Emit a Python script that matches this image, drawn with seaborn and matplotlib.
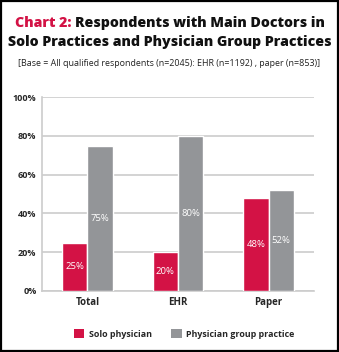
import matplotlib
matplotlib.use("Agg")
import matplotlib.pyplot as plt
import seaborn as sns
import pandas as pd
from matplotlib.patches import Rectangle, Patch

categories = ["Total", "EHR", "Paper"]
series = ["Solo physician", "Physician group practice"]
solo = [25, 20, 48]
group = [75, 80, 52]
yticks = [0, 20, 40, 60, 80, 100]

colors = ["#D31245", "#939598"]

df = pd.DataFrame({
    "category": categories * 2,
    "series": [series[0]] * 3 + [series[1]] * 3,
    "value": solo + group,
})

sns.set_theme(style="white")
plt.rcParams["font.family"] = ["Open Sans", "DejaVu Sans"]

fig = plt.figure(figsize=(3.39, 3.52), dpi=100)
ax = fig.add_axes([0.124, 0.1733, 0.802, 0.551])

sns.barplot(data=df, x="category", y="value", hue="series", order=categories,
            hue_order=series, palette=colors, width=0.56, saturation=1,
            ax=ax, legend=False, zorder=3)

for cont in ax.containers:
    ax.bar_label(cont, labels=[f"{v:.0f}%" for v in cont.datavalues],
                 label_type="center", color="white", fontsize=6.8)

ax.set_ylim(0, 100)
ax.set_xlim(-0.5, 2.5)
ax.set_yticks(yticks)
ax.set_yticklabels([f"{t}%" for t in yticks], fontsize=6.5, fontweight="bold")
ax.set_xticks(range(3))
ax.set_xticklabels(categories, fontsize=7, fontweight="bold")
ax.set_xticks([-0.5, 0.5, 1.5, 2.5], minor=True)
ax.tick_params(axis="x", which="major", length=0, pad=4)
ax.tick_params(axis="x", which="minor", length=10, width=1, color="#c8c8c8")
ax.tick_params(axis="y", length=0, pad=4)
ax.set_xlabel("")
ax.set_ylabel("")
ax.yaxis.grid(True, color="#cccccc", linewidth=1.2, zorder=0)
ax.set_axisbelow(True)
for s in ["top", "right"]:
    ax.spines[s].set_visible(False)
ax.spines["left"].set_color("#cccccc")
ax.spines["bottom"].set_color("#cccccc")
ax.spines["left"].set_linewidth(1.2)
ax.spines["bottom"].set_linewidth(1.2)

tfs = 10.15
t1 = fig.text(15 / 339, 1 - 23 / 352, "Chart 2: ", color="#D31245", fontsize=tfs,
              fontweight="heavy", va="center", ha="left")
ax.annotate("Respondents with Main Doctors in", xy=(1, 0.5), xycoords=t1,
            color="#111111", fontsize=tfs, fontweight="heavy",
            va="center", ha="left", annotation_clip=False)
fig.text(0.5, 1 - 42 / 352, "Solo Practices and Physician Group Practices",
         color="#111111", fontsize=tfs, fontweight="heavy", va="center", ha="center")
fig.text(0.5, 1 - 63 / 352,
         "[Base = All qualified respondents (n=2045): EHR (n=1192) , paper (n=853)]",
         color="#222222", fontsize=6.4, va="center", ha="center")

handles = [Patch(facecolor=c, edgecolor="none") for c in colors]
fig.legend(handles, series, loc="center", bbox_to_anchor=(0.543, 1 - 334 / 352),
           ncol=2, frameon=False, prop={"size": 6.4, "weight": "bold"},
           handlelength=1.2, handleheight=1.2, columnspacing=2.2, handletextpad=0.5)

fig.patches.append(Rectangle((0.003, 0.003), 0.994, 0.994, transform=fig.transFigure,
                             fill=False, edgecolor="black", linewidth=1.6))

fig.savefig("out.png", dpi=100)
